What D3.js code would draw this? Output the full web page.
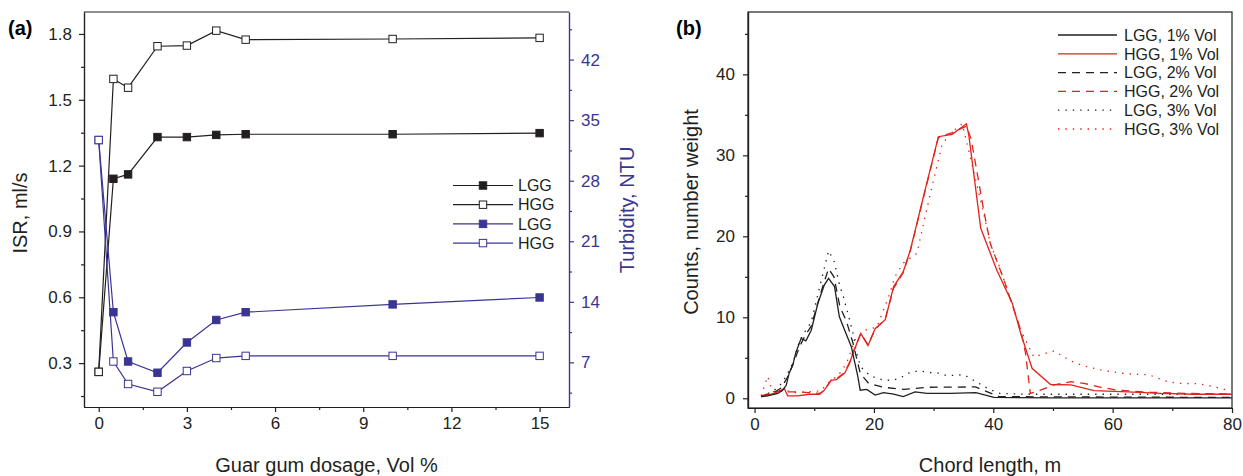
<!DOCTYPE html>
<head>
  <meta charset="utf-8">
  <title>ISR, turbidity and chord length distributions</title>
  <script src="https://cdn.jsdelivr.net/npm/d3@7/dist/d3.min.js"></script>
  <style>
  body { margin: 0; background: #fff; font-family: "Liberation Sans", Arial, sans-serif; }
  .axis path, .axis line { stroke: #231f20; stroke-width: 1.2px; }
  .axis text { font-size: 17px; fill: #231f20; font-family: "Liberation Sans", Arial, sans-serif; }
  .blue path, .blue line { stroke: #3a3592; }
  .blue text { fill: #3a3592; }
  .title { font-size: 20px; fill: #231f20; }
  .leg { font-size: 16px; fill: #231f20; }
  </style>
</head>
<body>
<script>
// ---- panel (a) data: dosage vs ISR and turbidity ----
var dosage = [0, 0.5, 1, 2, 3, 4, 5, 10, 15];
var isrLGG = [0.26, 1.14, 1.16, 1.33, 1.33, 1.34, 1.343, 1.343, 1.348];
var isrHGG = [0.26, 1.595, 1.555, 1.744, 1.747, 1.815, 1.774, 1.777, 1.782];
var turbLGG = [32.7, 12.8, 7.1, 5.8, 9.3, 11.9, 12.8, 13.7, 14.5];
var turbHGG = [32.7, 7.1, 4.5, 3.6, 6.0, 7.5, 7.75, 7.75, 7.75];

var isrTicks = [0.3, 0.6, 0.9, 1.2, 1.5, 1.8];
var turbTicks = [7, 14, 21, 28, 35, 42];
var dosageTicks = [0, 3, 6, 9, 12, 15];

// ---- panel (b) data: chord length (m) vs counts ----
var lgg1 = [[1.1,0.2],[2.2,0.3],[3.9,0.6],[4.7,1.0],[5.3,1.6],[5.8,3.1],[6.4,4.1],[6.9,5.6],[7.8,7.4],[8.6,7.1],[9.5,8.4],[10.6,11.7],[11.7,14.0],[12.4,14.8],[13.4,13.8],[14.2,10.1],[15.1,8.4],[16.2,6.4],[17.3,2.7],[17.7,1.0],[18.8,1.1],[20.2,0.4],[21.6,0.7],[23.3,0.5],[24.9,0.2],[26.9,0.8],[28.9,0.6],[32.8,0.6],[37.1,0.7],[40.1,0.1],[50,0.05],[80,0.05]];
var hgg1 = [[1.1,0.2],[3.3,0.6],[5.0,1.2],[5.55,0.3],[7.2,0.3],[9.2,0.5],[10.9,0.5],[11.7,1.0],[12.8,2.2],[13.7,2.3],[15.1,3.1],[15.9,4.3],[16.5,5.6],[17.8,8.0],[19.0,6.5],[20.2,8.6],[21.9,9.7],[23.3,13.8],[24.9,15.6],[26.1,18.3],[28.3,24.9],[30.8,32.3],[33.1,32.6],[35.5,33.9],[35.9,32.5],[37.9,21.0],[40.6,15.8],[43.2,11.7],[44.6,8.0],[46.5,3.7],[49.6,1.7],[53,1.65],[56.9,0.95],[62.5,0.8],[68.1,0.6],[73.7,0.5],[80,0.5]];
var lgg2 = [[1.1,0.2],[3,0.6],[4.5,1.3],[5.5,2.6],[6.5,4.3],[7.5,6.3],[8.5,7.8],[9.5,8.9],[10.5,11.5],[11.5,14.0],[12.4,16.0],[13.3,15.0],[14.3,11.3],[15.4,9.5],[16.5,6.8],[17.7,3.1],[19.1,1.85],[21.6,1.36],[25,1.1],[28.9,1.36],[37,1.4],[41,0.2],[80,0.1]];
var hgg2 = [[1.1,0.3],[3,0.7],[5,1.0],[5.6,0.8],[7,0.8],[9,0.7],[10.9,0.6],[11.7,1.0],[12.8,2.2],[13.7,2.4],[15.1,3.2],[15.9,4.4],[16.5,5.7],[17.8,8.0],[19.0,6.6],[20.2,8.5],[21.9,9.8],[23.3,13.6],[24.9,15.5],[26.1,18.2],[28.3,24.8],[30.8,32.2],[33.1,32.8],[35.5,33.6],[36.3,32.0],[38.4,23.2],[39.5,19.1],[41.8,14.6],[44.6,8.4],[45.4,5.6],[46.2,0.6],[47.9,1.0],[50.2,1.65],[53,2.05],[55.2,1.85],[58,1.36],[60.8,1.0],[66.4,0.74],[72,0.6],[80,0.55]];
var lgg3 = [[1.1,0.3],[3,0.8],[4.5,1.8],[5.5,3.0],[6.5,4.5],[7.5,7.0],[8.5,8.3],[9.5,9.4],[10.5,12.5],[11.5,15.5],[12.4,18.2],[13.3,17.0],[14.3,13.8],[14.9,12.5],[15.7,10.3],[16.5,8.0],[17.1,5.6],[17.7,4.1],[18.2,3.5],[19.6,2.7],[21.3,2.3],[23,2.2],[24.4,2.5],[25.8,3.1],[27.5,3.4],[29.1,3.2],[30.8,3.1],[32.2,2.8],[35.1,2.9],[37.1,2.05],[39.1,1.2],[41.1,0.6],[45,0.5],[80,0.5]];
var hgg3 = [[1.1,0.3],[2.2,2.7],[3,0.8],[5,1.0],[7,0.7],[9,0.8],[11,0.9],[12.8,2.2],[14,2.8],[15.4,4.3],[16.8,7.2],[18.5,8.4],[20.5,8.8],[21.6,10.9],[22.7,13.0],[23.5,15.0],[24.9,16.7],[27.2,17.9],[29.4,25.1],[31.4,31.3],[32.8,32.7],[34.8,33.9],[36.4,29.0],[38.4,22.8],[39.5,19.1],[41,16.3],[43,12.0],[44.6,8.4],[46.8,5.1],[48.5,5.5],[50.2,5.85],[51.3,5.35],[53,4.6],[54.7,4.1],[56.3,3.8],[58,3.5],[59.7,3.3],[61.4,3.1],[63,3.0],[64.7,2.95],[66.1,2.9],[67.5,2.5],[69.2,2.05],[70.9,1.85],[74.2,1.8],[75.9,1.6],[77.6,1.3],[79.3,1.0]];

var chordTicks = [0, 20, 40, 60, 80];
var countTicks = [0, 10, 20, 30, 40];

var black = "#231f20", blue = "#3a3592", red = "#e2231a";

var svg = d3.select("body").append("svg")
    .attr("width", 1243)
    .attr("height", 476);

// ================= panel (a) =================
var a = { left: 84, right: 569, top: 12, bottom: 407 };
var xA = d3.scaleLinear().domain([-0.5, 16]).range([a.left, a.right]);
var yL = d3.scaleLinear().domain([0.1, 1.9]).range([a.bottom, a.top]);
var yR = d3.scaleLinear().domain([1.84, 47.5]).range([a.bottom, a.top]);

// top frame line
svg.append("line").attr("x1", a.left).attr("x2", a.right).attr("y1", a.top).attr("y2", a.top)
    .attr("stroke", black).attr("stroke-width", 1.2);

// minor ticks first, then the main axes
svg.append("g").attr("class", "axis").attr("transform", "translate(0," + a.bottom + ")")
    .call(d3.axisBottom(xA).tickValues(d3.range(1.5, 16, 3)).tickSize(3).tickFormat("").tickSizeOuter(0));
svg.append("g").attr("class", "axis").attr("transform", "translate(0," + a.bottom + ")")
    .call(d3.axisBottom(xA).tickValues(dosageTicks).tickSize(5).tickPadding(5).tickSizeOuter(0));
svg.append("g").attr("class", "axis").attr("transform", "translate(" + a.left + ",0)")
    .call(d3.axisLeft(yL).tickValues([0.15, 0.45, 0.75, 1.05, 1.35, 1.65]).tickSize(3).tickFormat("").tickSizeOuter(0));
svg.append("g").attr("class", "axis").attr("transform", "translate(" + a.left + ",0)")
    .call(d3.axisLeft(yL).tickValues(isrTicks).tickSize(5).tickPadding(7).tickFormat(d3.format(".1f")).tickSizeOuter(0));
svg.append("g").attr("class", "axis blue").attr("transform", "translate(" + a.right + ",0)")
    .call(d3.axisRight(yR).tickValues([3.5, 10.5, 17.5, 24.5, 31.5, 38.5, 45.5]).tickSize(3).tickFormat("").tickSizeOuter(0));
svg.append("g").attr("class", "axis blue").attr("transform", "translate(" + a.right + ",0)")
    .call(d3.axisRight(yR).tickValues(turbTicks).tickSize(5).tickPadding(7).tickSizeOuter(0));

// series
var seriesA = [
  { vals: isrLGG, y: yL, color: black, filled: true },
  { vals: isrHGG, y: yL, color: black, filled: false },
  { vals: turbLGG, y: yR, color: blue, filled: true },
  { vals: turbHGG, y: yR, color: blue, filled: false }
];

seriesA.forEach(function(s) {
  var line = d3.line()
      .x(function(d, i) { return xA(dosage[i]); })
      .y(function(d) { return s.y(d); });
  svg.append("path").datum(s.vals)
      .attr("d", line)
      .attr("fill", "none")
      .attr("stroke", s.color)
      .attr("stroke-width", 1.2);
});
seriesA.forEach(function(s) {
  svg.append("g").selectAll("rect")
      .data(s.vals)
      .enter().append("rect")
        .attr("x", function(d, i) { return xA(dosage[i]) - 3.7; })
        .attr("y", function(d) { return s.y(d) - 3.7; })
        .attr("width", 7.4).attr("height", 7.4)
        .attr("fill", s.filled ? s.color : "#fff")
        .attr("stroke", s.color)
        .attr("stroke-width", 1);
});

// legend (a)
var legA = svg.append("g").attr("transform", "translate(453,185.5)");
seriesA.forEach(function(s, i) {
  var g = legA.append("g").attr("transform", "translate(0," + (i * 19.2) + ")");
  g.append("line").attr("x1", 0).attr("x2", 60).attr("stroke", s.color).attr("stroke-width", 1.2);
  g.append("rect").attr("x", 26.3).attr("y", -3.7).attr("width", 7.4).attr("height", 7.4)
      .attr("fill", s.filled ? s.color : "#fff").attr("stroke", s.color);
  g.append("text").attr("class", "leg").attr("x", 65).attr("dy", "0.36em")
      .text(i % 2 === 0 ? "LGG" : "HGG");
});

// titles (a)
svg.append("text").attr("class", "title").attr("text-anchor", "middle")
    .attr("x", (a.left + a.right) / 2).attr("y", 472).text("Guar gum dosage, Vol %");
svg.append("text").attr("class", "title").attr("text-anchor", "middle")
    .attr("transform", "translate(20,213) rotate(-90)").attr("dy", "0.35em").text("ISR, ml/s");
svg.append("text").attr("class", "title").attr("text-anchor", "middle").style("fill", blue)
    .attr("transform", "translate(627,210) rotate(-90)").attr("dy", "0.35em").text("Turbidity, NTU");
svg.append("text").attr("x", 8).attr("y", 35).style("font-size", "20px").style("font-weight", "bold")
    .text("(a)");

// ================= panel (b) =================
var b = { left: 748, right: 1232, top: 12, bottom: 408 };
var xB = d3.scaleLinear().domain([-1.1, 80]).range([b.left, b.right]);
var yB = d3.scaleLinear().domain([-1.2, 47.7]).range([b.bottom, b.top]);

svg.append("rect").attr("x", b.left).attr("y", b.top)
    .attr("width", b.right - b.left).attr("height", b.bottom - b.top)
    .attr("fill", "none").attr("stroke", black).attr("stroke-width", 1.2);

svg.append("g").attr("class", "axis").attr("transform", "translate(0," + b.bottom + ")")
    .call(d3.axisBottom(xB).tickValues([10, 30, 50, 70]).tickSize(3).tickFormat("").tickSizeOuter(0));
svg.append("g").attr("class", "axis").attr("transform", "translate(0," + b.bottom + ")")
    .call(d3.axisBottom(xB).tickValues(chordTicks).tickSize(5).tickPadding(5).tickSizeOuter(0));
svg.append("g").attr("class", "axis").attr("transform", "translate(" + b.left + ",0)")
    .call(d3.axisLeft(yB).tickValues([5, 15, 25, 35, 45]).tickSize(3).tickFormat("").tickSizeOuter(0));
svg.append("g").attr("class", "axis").attr("transform", "translate(" + b.left + ",0)")
    .call(d3.axisLeft(yB).tickValues(countTicks).tickSize(5).tickPadding(8).tickSizeOuter(0));

var seriesB = [
  { name: "LGG, 1% Vol", pts: lgg1, color: black, dash: null },
  { name: "HGG, 1% Vol", pts: hgg1, color: red, dash: null },
  { name: "LGG, 2% Vol", pts: lgg2, color: black, dash: "8,6" },
  { name: "HGG, 2% Vol", pts: hgg2, color: red, dash: "8,6" },
  { name: "LGG, 3% Vol", pts: lgg3, color: black, dash: "1.4,6" },
  { name: "HGG, 3% Vol", pts: hgg3, color: red, dash: "1.4,6" }
];

var lineB = d3.line()
    .x(function(d) { return xB(d[0]); })
    .y(function(d) { return yB(d[1]); });

svg.append("defs").append("clipPath").attr("id", "clipB")
  .append("rect").attr("x", b.left).attr("y", b.top)
    .attr("width", b.right - b.left).attr("height", b.bottom - b.top);

var plotB = svg.append("g").attr("clip-path", "url(#clipB)");
seriesB.slice().reverse().forEach(function(s) {
  plotB.append("path").datum(s.pts)
      .attr("d", lineB)
      .attr("fill", "none")
      .attr("stroke", s.color)
      .attr("stroke-width", 1.3)
      .attr("stroke-dasharray", s.dash);
});

// legend (b)
var legB = svg.append("g").attr("transform", "translate(1058,35)");
seriesB.forEach(function(s, i) {
  var g = legB.append("g").attr("transform", "translate(0," + (i * 18.8) + ")");
  g.append("line").attr("x1", 0).attr("x2", 59)
      .attr("stroke", s.color).attr("stroke-width", 1.3).attr("stroke-dasharray", s.dash);
  g.append("text").attr("class", "leg").attr("x", 66).attr("dy", "0.36em").text(s.name);
});

svg.append("text").attr("class", "title").attr("text-anchor", "middle")
    .attr("x", (b.left + b.right) / 2).attr("y", 472).text("Chord length, m");
svg.append("text").attr("class", "title").attr("text-anchor", "middle")
    .attr("transform", "translate(691,212) rotate(-90)").attr("dy", "0.35em").text("Counts, number weight");
svg.append("text").attr("x", 676).attr("y", 35).style("font-size", "20px").style("font-weight", "bold")
    .text("(b)");
</script>
</body>
</html>
